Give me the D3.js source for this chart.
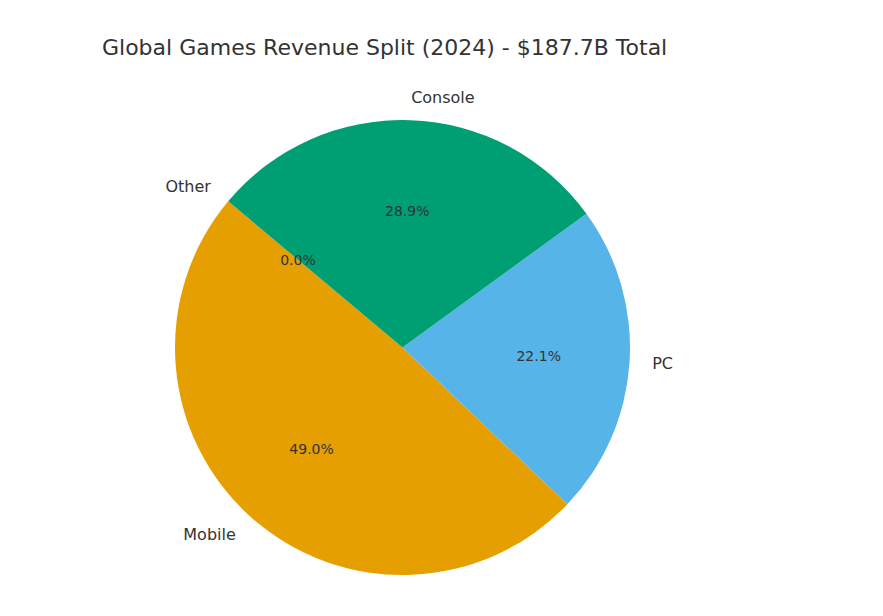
<!DOCTYPE html>
<html><head><meta charset="utf-8">
<script src="https://cdn.jsdelivr.net/npm/d3@7"></script>
<style>body{margin:0;background:#fff;font-family:"DejaVu Sans",sans-serif;}</style>
</head><body><div id="chart"></div>
<script>
const categories = ['Mobile', 'PC', 'Console', 'Other'];
const revenue = [92.0, 41.5, 54.2, 0.0];
const colors = ['#E69F00', '#56B4E9', '#009E73', '#F0E442'];

const width = 883, height = 616;
const cx = 402.5, cy = 347.5, r = 227.5;
const svg = d3.select('#chart').append('svg').attr('width', width).attr('height', height);

svg.append('text').attr('x', 102).attr('y', 55)
  .attr('font-size', 22).attr('fill', '#333')
  .text('Global Games Revenue Split (2024) - $187.7B Total');

// matplotlib startangle 140, counterclockwise
const start = (90 - 140) * Math.PI / 180;
const pie = d3.pie().sort(null).startAngle(start).endAngle(start - 2 * Math.PI);
const arcs = pie(revenue);
const arc = d3.arc().innerRadius(0).outerRadius(r);
const total = d3.sum(revenue);

const g = svg.append('g').attr('transform', `translate(${cx},${cy})`);
g.selectAll('path').data(arcs).enter().append('path')
  .attr('d', arc).attr('fill', (d, i) => colors[i]);

const pos = (d, k) => {
  const a = (d.startAngle + d.endAngle) / 2;
  return [Math.sin(a) * r * k, -Math.cos(a) * r * k];
};

g.selectAll('.lab').data(arcs).enter().append('text')
  .attr('x', d => pos(d, 1.1)[0]).attr('y', d => pos(d, 1.1)[1])
  .attr('dy', '0.35em').attr('font-size', 16).attr('fill', '#333')
  .attr('text-anchor', d => pos(d, 1.1)[0] > 0 ? 'start' : 'end')
  .text((d, i) => categories[i]);

g.selectAll('.pct').data(arcs).enter().append('text')
  .attr('x', d => pos(d, 0.6)[0]).attr('y', d => pos(d, 0.6)[1])
  .attr('dy', '0.35em').attr('font-size', 14).attr('fill', '#333')
  .attr('text-anchor', 'middle')
  .text(d => (d.value / total * 100).toFixed(1) + '%');
</script></body></html>
